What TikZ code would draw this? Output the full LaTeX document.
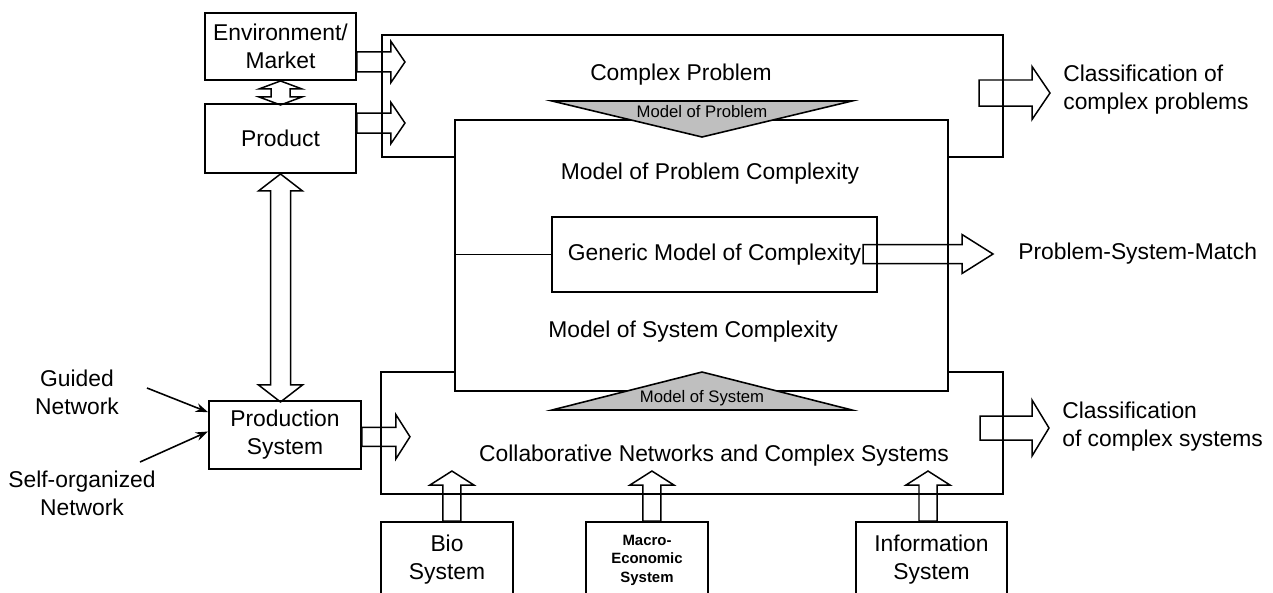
\documentclass[tikz,border=0pt]{standalone}
\usepackage{fontspec}
\setmainfont{Liberation Sans}
\usetikzlibrary{positioning, arrows.meta, calc}
\def\px{0.02cm}
\tikzset{
  box/.style={draw, line width=1.1pt, align=center, inner sep=0pt,
    font=\fontsize{13}{16}\selectfont},
  frame/.style={line width=1.1pt},
  lbl/.style={align=center, inner sep=0pt, font=\fontsize{13}{16}\selectfont},
  smallbold/.style={font=\fontsize{8.5}{10.5}\selectfont\bfseries},
  fatline/.style={line width=0.85pt, line join=miter},
  % hollow block arrow: length, shaft width, head width, head length
  pics/blockarrow/.style n args={4}{code={
    \draw[fatline] (0,-#2/2) -- (#1-#4,-#2/2) -- (#1-#4,-#3/2) -- (#1,0)
      -- (#1-#4,#3/2) -- (#1-#4,#2/2) -- (0,#2/2) -- cycle;
  }},
  pics/dblarrow/.style n args={4}{code={
    \draw[fatline] (#4,-#2/2) -- (#1-#4,-#2/2) -- (#1-#4,-#3/2) -- (#1,0)
      -- (#1-#4,#3/2) -- (#1-#4,#2/2) -- (#4,#2/2) -- (#4,#3/2) -- (0,0)
      -- (#4,-#3/2) -- cycle;
  }},
  modeltri/.style={draw, line width=0.9pt, fill=black!25},
  trilbl/.style={inner sep=0pt, font=\fontsize{9.5}{10}\selectfont},
  netarr/.style={-{Stealth[length=7pt,width=5pt]}, line width=0.9pt},
}
\begin{document}
\begin{tikzpicture}[x=\px, y=-\px]
  \useasboundingbox (0,0) rectangle (1273,592);

  % boxes
  \node[box, minimum width=151*\px, minimum height=67*\px] (env) at (280.5,46.5) {Environment/\\Market};
  \node[box, minimum width=151*\px, minimum height=69*\px] (product) at (280.5,138.5) {Product};
  \node[box, minimum width=152*\px, minimum height=68*\px] (prodsys) at (285,435) {Production\\System};
  \node[box, minimum width=493*\px, minimum height=271*\px] (bigbox) at (701.5,255.5) {};
  \node[box, minimum width=325*\px, minimum height=75*\px] (generic) at (714.5,254.5) {Generic Model of Complexity};
  \node[box, minimum width=132*\px, minimum height=76*\px] (bio) at (447,560) {Bio\\System};
  \node[box, smallbold, minimum width=122*\px, minimum height=76*\px] (macro) at (647,560) {Macro-\\Economic\\System};
  \node[box, minimum width=151*\px, minimum height=76*\px] (info) at (931.5,560) {Information\\System};

  % problem and system frames
  \coordinate (pTop) at (382,35);
  \coordinate (pBot) at (1003,157);
  \coordinate (sTop) at (381,372);
  \coordinate (sBot) at (1003,494);
  \draw[frame] (bigbox.west |- pBot) -| (pTop) -| (pBot) -- (bigbox.east |- pBot);
  \draw[frame] (bigbox.west |- sTop) -- (sTop) |- (sBot) |- (bigbox.east |- sTop);
  \draw[frame] (bigbox.west |- generic) -- (generic.west);

  % model triangles
  \draw[modeltri] (552,101) -- (852,101) -- (702,137) -- cycle;
  \node[trilbl] (modProb) at (702,112) {Model of Problem};
  \draw[modeltri] (552,410) -- (852,410) -- (702,372) -- cycle;
  \node[trilbl] (modSys) at (702,398) {Model of System};

  % labels
  \node[lbl] (cplxProblem) at (681,75) {Complex Problem};
  \node[lbl] (probCplx) at (710,174) {Model of Problem Complexity};
  \node[lbl] (sysCplx) at (693,332) {Model of System Complexity};
  \node[lbl] (collab) at (714,456) {Collaborative Networks and Complex Systems};
  \node[lbl] (guided) at (77,392) {Guided\\Network};
  \node[lbl] (selforg) at (82,493) {Self-organized\\Network};

  % block arrows
  \pic (envOut) at ([yshift=-8.8pt]env.east) {blockarrow={48}{20}{41}{14}};
  \pic (prodOut) at ([yshift=8.8pt]product.east) {blockarrow={48}{20}{41}{14}};
  \pic (sysOut) at ([yshift=-1pt]prodsys.east) {blockarrow={48}{19}{44}{14}};
  \pic (probOut) at (979,93) {blockarrow={71}{26}{53}{18}};
  \pic (clsOut) at (980,428) {blockarrow={69}{24}{56}{17}};
  \pic (matchOut) at (863,254) {blockarrow={130}{19}{39}{31}};
  \pic[rotate=90] (bioUp) at ([xshift=2.8pt]bio.north) {blockarrow={50}{18}{44}{14}};
  \pic[rotate=90] (macroUp) at ([xshift=2.8pt]macro.north) {blockarrow={50}{18}{44}{14}};
  \pic[rotate=90] (infoUp) at ([xshift=-2pt]info.north) {blockarrow={50}{18}{44}{14}};
  \pic[rotate=-90] (envProd) at (env.south) {dblarrow={24}{19}{43}{8}};
  \pic[rotate=-90] (prodSys) at (product.south) {dblarrow={228}{20}{44}{17}};

  \node[lbl, align=left, anchor=west] (clsProb) at (1063,90) {Classification of\\complex problems};
  \node[lbl, align=left, anchor=west] (clsSys) at (1062,427) {Classification\\of complex systems};
  \node[lbl, anchor=west] (match) at (1018,254) {Problem-System-Match};

  % network inputs
  \coordinate (gStart) at (147,388);
  \coordinate (sStart) at (140,462);
  \draw[netarr] (gStart) -- ([yshift=13pt]prodsys.west);
  \draw[netarr] (sStart) -- ([yshift=2pt]prodsys.west);
\end{tikzpicture}
\end{document}
